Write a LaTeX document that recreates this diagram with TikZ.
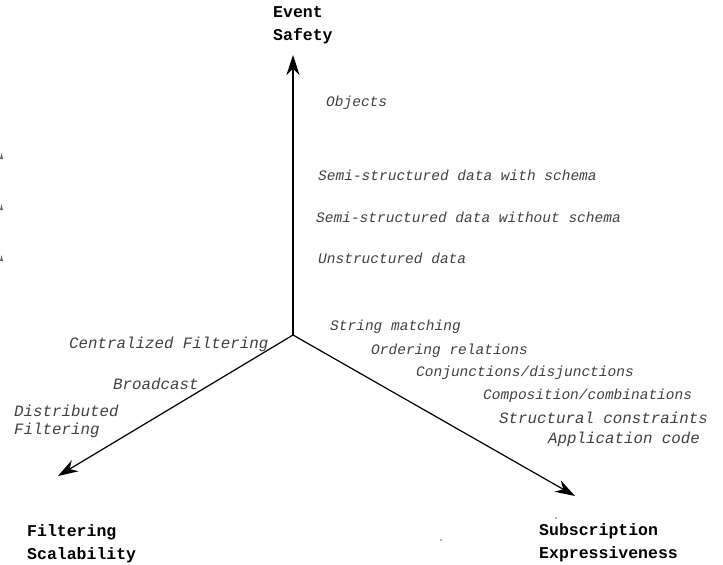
\documentclass[tikz,border=0pt]{standalone}
\usepackage{fontspec}
\setmonofont{Liberation Mono}
\usetikzlibrary{arrows.meta}
\tikzset{
  axis/.style={line width=1.2pt,-{Stealth[length=20pt,width=13pt]}},
  val/.style={font=\ttfamily\itshape\fontsize{14.5}{18}\selectfont,text=black!75,anchor=west,inner sep=0pt,align=left},
  bigval/.style={val,font=\ttfamily\itshape\fontsize{15.8}{18}\selectfont},
  axlabel/.style={font=\ttfamily\bfseries\fontsize{16.5}{23.5}\selectfont,anchor=north west,inner sep=0pt,align=left},
  speck/.style={fill=black!60}
}
\begin{document}
\begin{tikzpicture}[x=1pt,y=-1pt]
\useasboundingbox (0,0) rectangle (723,565);
\coordinate (O) at (293,335);
\coordinate (up) at (293,55);
\coordinate (left) at (58,476);
\coordinate (right) at (575,496);
\draw[axis] (O) -- (up);
\draw[axis] (O) -- (left);
\draw[axis] (O) -- (right);
% axis labels
\node[axlabel] (safety) at (273,6) {Event\\Safety};
\node[axlabel] (scal) at (27,524) {Filtering\\Scalability};
\node[axlabel] (expr) at (539,523) {Subscription\\Expressiveness};
% event safety values
\node[val] (v1) at (326,103) {Objects};
\node[val] (v2) at (318,175) {Semi-structured data with schema};
\node[val] (v3) at (316,217) {Semi-structured data without schema};
\node[val] (v4) at (318,258) {Unstructured data};
% expressiveness values
\node[val] (e1) at (330,327) {String matching};
\node[val] (e2) at (371,351) {Ordering relations};
\node[val] (e3) at (416,373) {Conjunctions/disjunctions};
\node[val] (e4) at (483,396) {Composition/combinations};
\node[bigval] (e5) at (499,418) {Structural constraints};
\node[bigval] (e6) at (548,439) {Application code};
% scalability values
\node[bigval] (s1) at (69,344) {Centralized Filtering};
\node[bigval] (s2) at (113,384) {Broadcast};
\node[bigval,anchor=north west] (s3) at (14,405) {Distributed\\Filtering};
% stray marks
\fill[speck] (0,159) -- (1.5,153) -- (3,159) -- cycle;
\fill[speck] (0,210) -- (1.5,204) -- (3,210) -- cycle;
\fill[speck] (0,261) -- (1.5,255) -- (3,261) -- cycle;
\fill[speck] (556,518) circle (0.8);
\fill[speck] (441,540) circle (0.8);
\end{tikzpicture}
\end{document}
